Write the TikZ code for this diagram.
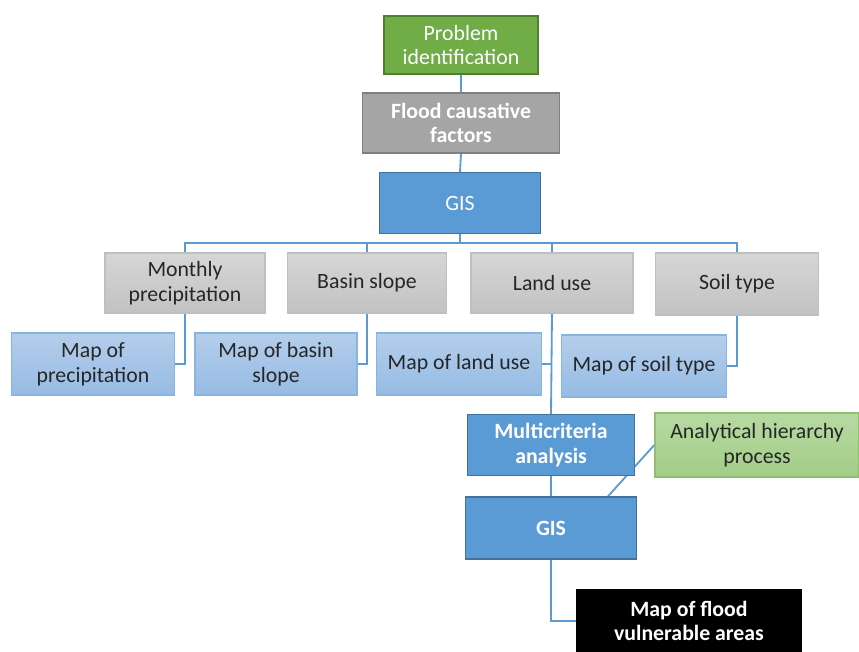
\documentclass[tikz,border=0pt]{standalone}
\usepackage{fontspec}
\setmainfont{Carlito}
\usepackage{tikz}
\usetikzlibrary{positioning,calc,backgrounds}
\definecolor{linkblue}{HTML}{5B9BD5}
\definecolor{gisfill}{HTML}{5B9BD5}
\definecolor{gisline}{HTML}{41719C}
\definecolor{startfill}{HTML}{70AD47}
\definecolor{startline}{HTML}{507E32}
\definecolor{causefill}{HTML}{A5A5A5}
\definecolor{causeline}{HTML}{7F7F7F}
\definecolor{factortop}{HTML}{D6D6D6}
\definecolor{factorbot}{HTML}{C2C2C2}
\definecolor{factorline}{HTML}{BFBFBF}
\definecolor{maptop}{HTML}{B4CEEB}
\definecolor{mapbot}{HTML}{96BBE4}
\definecolor{mapline}{HTML}{8AB4E0}
\definecolor{ahptop}{HTML}{B7D9A2}
\definecolor{ahpbot}{HTML}{A2CD88}
\definecolor{ahpline}{HTML}{8FC06F}
\definecolor{darktext}{HTML}{262626}
\newcommand{\boxfont}{\fontsize{15.5}{17.5}\selectfont}
\tikzstyle{box} = [rectangle, inner sep=2pt, align=center, font=\boxfont, line width=1pt]
\tikzstyle{start} = [box, fill=startfill, draw=startline, text=white]
\tikzstyle{cause} = [box, fill=causefill, draw=causeline, text=white, font=\boxfont\bfseries]
\tikzstyle{gis} = [box, fill=gisfill, draw=gisline, text=white]
\tikzstyle{factor} = [box, top color=factortop, bottom color=factorbot, draw=factorline, text=darktext]
\tikzstyle{mapbox} = [box, top color=maptop, bottom color=mapbot, draw=mapline, text=darktext]
\tikzstyle{ahp} = [box, top color=ahptop, bottom color=ahpbot, draw=ahpline, text=darktext]
\tikzstyle{result} = [box, fill=black, draw=black, text=white, font=\boxfont\bfseries]
\tikzstyle{link} = [draw=linkblue, line width=1.3pt]

\begin{document}
\begin{tikzpicture}[x=0.025cm, y=-0.025cm]
	\useasboundingbox (0,0) rectangle (859,651);
	% main chain
	\node (prob) [start, minimum width=154*0.025cm, minimum height=58*0.025cm] at (461,45) {Problem\\identification};
	\node (cause) [cause, minimum width=197*0.025cm, minimum height=60*0.025cm] at (461,123) {Flood causative\\factors};
	\node (gis1) [gis, minimum width=161*0.025cm, minimum height=61*0.025cm] at (460,203) {GIS};
	% factors
	\node (prec) [factor, minimum width=160*0.025cm, minimum height=60*0.025cm] at (185,283) {Monthly\\precipitation};
	\node (slope) [factor, minimum width=159*0.025cm, minimum height=60*0.025cm] at (367,283) {Basin slope};
	\node (land) [factor, minimum width=162*0.025cm, minimum height=60*0.025cm] at (552,283) {Land use};
	\node (soil) [factor, minimum width=163*0.025cm, minimum height=62*0.025cm] at (737,284) {Soil type};
	% maps
	\node (mprec) [mapbox, minimum width=163*0.025cm, minimum height=62*0.025cm] at (93,364) {Map of\\precipitation};
	\node (mslope) [mapbox, minimum width=162*0.025cm, minimum height=62*0.025cm] at (276,364) {Map of basin\\slope};
	\node (mland) [mapbox, minimum width=165*0.025cm, minimum height=62*0.025cm] at (459,364) {Map of land use};
	\node (msoil) [mapbox, minimum width=165*0.025cm, minimum height=62*0.025cm] at (644,366) {Map of soil type};
	% analysis
	\node (mca) [gis, minimum width=167*0.025cm, minimum height=61*0.025cm, font=\boxfont\bfseries] at (551,445) {Multicriteria\\analysis};
	\node (ahp) [ahp, minimum width=204*0.025cm, minimum height=64*0.025cm] at (757,445) {Analytical hierarchy\\process};
	\node (gis2) [gis, minimum width=171*0.025cm, minimum height=62*0.025cm, font=\boxfont\bfseries] at (551,528) {GIS};
	\node (flood) [result, minimum width=224*0.025cm, minimum height=62*0.025cm] at (689,621) {Map of flood\\vulnerable areas};
	% connectors
	\begin{pgfonlayer}{background}
	\coordinate (bus) at (460,243);
	\draw [link] (prob.south) -- (cause.north);
	\draw [link] (cause.south) -- (gis1.north);
	\draw [link] (gis1.south) -- (bus);
	\draw [link] (prec.north) |- (bus) -| (soil.north);
	\draw [link] (slope.north) -- (slope.north |- bus);
	\draw [link] (land.north) -- (land.north |- bus);
	\draw [link] (prec.south) |- (mprec.east);
	\draw [link] (slope.south) |- (mslope.east);
	\draw [link] (soil.south) |- (msoil.east);
	\draw [link] (land.south) -- (mca.north);
	\draw [link] (mland.east) -- (mland.east -| land.south);
	\draw [link] (mca.south) -- (gis2.north);
	\draw [link] (ahp.west) -- ($(gis2.north)+(57,0)$);
	\draw [link] (gis2.south) |- (flood.west);
	\end{pgfonlayer}
\end{tikzpicture}
\end{document}
